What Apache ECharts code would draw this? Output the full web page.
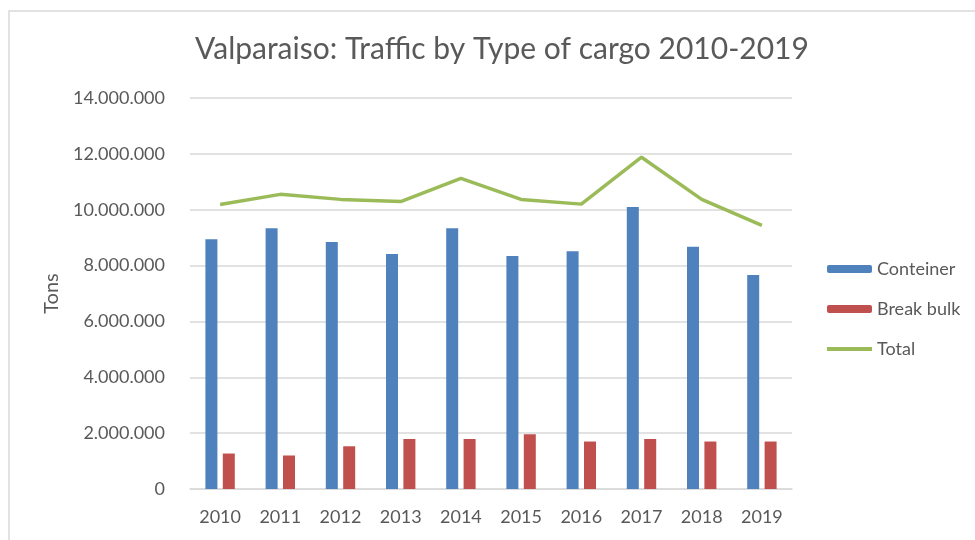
<!DOCTYPE html>
<html>
<head>
<meta charset="utf-8">
<script src="https://cdn.jsdelivr.net/npm/echarts@6/dist/echarts.min.js"></script>
<style>
  html, body { margin: 0; padding: 0; background: #fff; }
  #chart { width: 975px; height: 540px; }
</style>
</head>
<body>
<div id="chart"></div>
<script>
// Valparaiso port traffic by cargo type, tons per year
const years = ['2010', '2011', '2012', '2013', '2014', '2015', '2016', '2017', '2018', '2019'];
const container = [8940000, 9340000, 8840000, 8410000, 9340000, 8340000, 8510000, 10100000, 8670000, 7660000];
const breakBulk = [1270000, 1200000, 1530000, 1790000, 1790000, 1960000, 1700000, 1790000, 1700000, 1700000];
const total = [10190000, 10550000, 10370000, 10290000, 11120000, 10370000, 10200000, 11880000, 10370000, 9440000];

const FONT = 'Lato';
const TEXT = '#595959';
const GRID = '#d9d9d9';

function dotted(v) {
  return String(v).replace(/\B(?=(\d{3})+(?!\d))/g, '.');
}

const chart = echarts.init(document.getElementById('chart'), null, { renderer: 'canvas' });
chart.setOption({
  animation: false,
  backgroundColor: '#fff',
  textStyle: { fontFamily: FONT },
  graphic: [{
    type: 'rect',
    shape: { x: 9, y: 11, width: 980, height: 540 },
    style: { fill: 'none', stroke: GRID, lineWidth: 1.5 },
    silent: true
  }],
  title: {
    text: 'Valparaiso: Traffic by Type of cargo 2010-2019',
    left: 497,
    textAlign: 'center',
    top: 29,
    textStyle: { fontFamily: FONT, fontSize: 30, fontWeight: 'normal', color: TEXT }
  },
  legend: {
    orient: 'vertical',
    left: 820,
    top: 255,
    itemWidth: 45,
    itemHeight: 8,
    itemGap: 22,
    itemTextGap: 6,
    textStyle: { fontFamily: FONT, fontSize: 18, color: TEXT, lineHeight: 18 },
    data: ['Conteiner', 'Break bulk', { name: 'Total', itemStyle: { opacity: 0 }, lineStyle: { width: 4 } }]
  },
  grid: { left: 190, right: 183, top: 98, bottom: 51, containLabel: false },
  xAxis: {
    type: 'category',
    data: years,
    axisLine: { lineStyle: { color: GRID, width: 1.5 } },
    axisTick: { show: false },
    axisLabel: { color: TEXT, fontSize: 18, fontFamily: FONT, margin: 19 }
  },
  yAxis: {
    type: 'value',
    min: 0,
    max: 14000000,
    interval: 2000000,
    name: 'Tons',
    nameLocation: 'middle',
    nameGap: 128,
    nameTextStyle: { color: TEXT, fontSize: 20, fontFamily: FONT },
    axisLine: { show: false },
    axisTick: { show: false },
    splitLine: { lineStyle: { color: GRID, width: 1.5 } },
    axisLabel: { color: TEXT, fontSize: 18, fontFamily: FONT, margin: 25, formatter: dotted }
  },
  series: [
    {
      name: 'Conteiner',
      type: 'bar',
      data: container,
      barWidth: 12,
      barGap: '45%',
      itemStyle: { color: '#4f81bd' }
    },
    {
      name: 'Break bulk',
      type: 'bar',
      data: breakBulk,
      barWidth: 12,
      barGap: '45%',
      itemStyle: { color: '#c0504d' }
    },
    {
      name: 'Total',
      type: 'line',
      data: total,
      symbol: 'none',
      lineStyle: { color: '#9bbb59', width: 3.5 },
      itemStyle: { color: '#9bbb59' }
    }
  ]
});
</script>
</body>
</html>
